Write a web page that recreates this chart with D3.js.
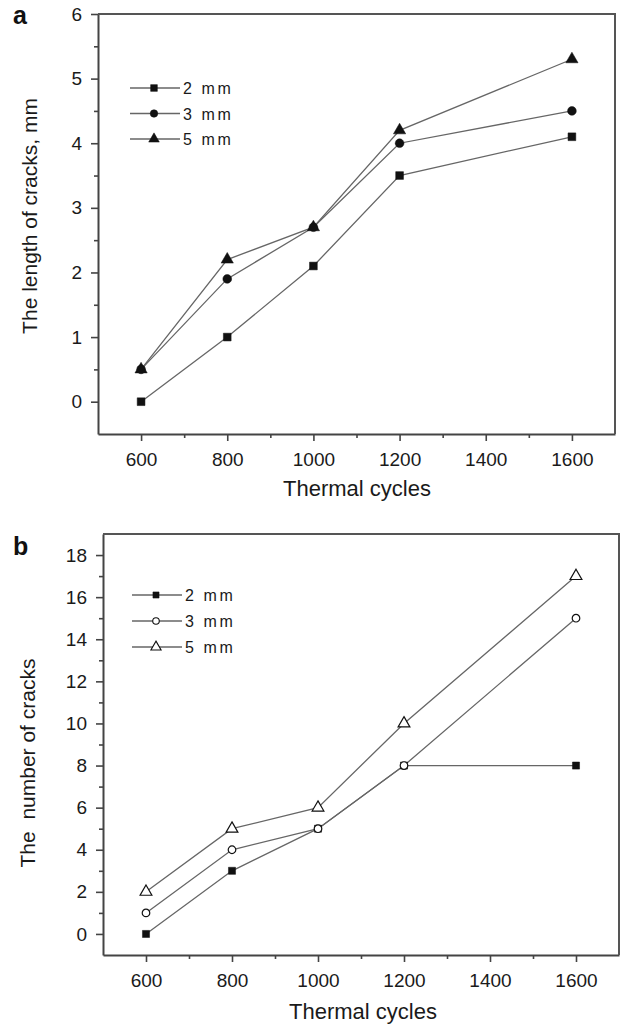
<!DOCTYPE html>
<html>
<head>
<meta charset="utf-8">
<script src="https://cdn.jsdelivr.net/npm/d3@7"></script>
<style>
  body { margin: 0; background: #fff; }
  svg { display: block; font-family: "Liberation Sans", Arial, sans-serif; }
</style>
</head>
<body>
<div id="chart"></div>
<script>
// Thermal cycles on the x axis (same for both panels)
const cycles = [600, 800, 1000, 1200, 1600];
const seriesNames = ["2 mm", "3 mm", "5 mm"];

// panel a: length of cracks, mm
const lengthTwo = [0, 1.0, 2.1, 3.5, 4.1];
const lengthThree = [0.5, 1.9, 2.7, 4.0, 4.5];
const lengthFive = [0.5, 2.2, 2.7, 4.2, 5.3];

// panel b: number of cracks
const countTwo = [0, 3, 5, 8, 8];
const countThree = [1, 4, 5, 8, 15];
const countFive = [2, 5, 6, 10, 17];

const xTicks = [600, 800, 1000, 1200, 1400, 1600];
const xMinor = [700, 900, 1100, 1300, 1500];
const yTicksA = [0, 1, 2, 3, 4, 5, 6];
const yMinorA = [0.5, 1.5, 2.5, 3.5, 4.5, 5.5];
const yTicksB = [0, 2, 4, 6, 8, 10, 12, 14, 16, 18];
const yMinorB = [1, 3, 5, 7, 9, 11, 13, 15, 17];

const width = 620, height = 1025;
const svg = d3.select("#chart").append("svg")
  .attr("width", width)
  .attr("height", height);

const axisColor = "#444";
const lineColor = "#666";

function drawPanel(p) {
  const x = d3.scaleLinear().domain([500, 1700]).range([p.left, p.right]);
  const y = d3.scaleLinear().domain(p.yDomain).range([p.bottom, p.top]);
  const g = svg.append("g");

  // minor ticks first
  g.append("g")
    .attr("transform", `translate(0,${p.bottom})`)
    .call(d3.axisBottom(x).tickValues(xMinor).tickSize(4).tickFormat(""))
    .call(a => a.select(".domain").remove());
  g.append("g")
    .attr("transform", `translate(${p.left},0)`)
    .call(d3.axisLeft(y).tickValues(p.yMinor).tickSize(4).tickFormat(""))
    .call(a => a.select(".domain").remove());

  // major axes
  const xa = g.append("g")
    .attr("transform", `translate(0,${p.bottom})`)
    .call(d3.axisBottom(x).tickValues(xTicks).tickFormat(d3.format("d"))
      .tickSize(7).tickPadding(12).tickSizeOuter(0));
  const ya = g.append("g")
    .attr("transform", `translate(${p.left},0)`)
    .call(d3.axisLeft(y).tickValues(p.yTicks).tickFormat(d3.format("d"))
      .tickSize(7).tickPadding(9).tickSizeOuter(0));
  [xa, ya].forEach(a => {
    a.attr("font-size", 19).attr("font-family", "Liberation Sans, Arial, sans-serif");
    a.selectAll("text").attr("fill", "#1a1a1a");
  });
  g.selectAll(".tick line").attr("stroke", axisColor).attr("stroke-width", 1.6);
  g.selectAll(".domain").attr("stroke", axisColor).attr("stroke-width", 2);

  // top and right frame
  g.append("path")
    .attr("d", `M${p.left},${p.top}H${p.right}V${p.bottom}`)
    .attr("fill", "none").attr("stroke", "#555").attr("stroke-width", 2);

  // series lines
  const line = d3.line().x((d, i) => x(cycles[i])).y(d => y(d));
  p.series.forEach(s => {
    g.append("path").datum(s.values)
      .attr("d", line)
      .attr("fill", "none").attr("stroke", lineColor).attr("stroke-width", 1.3);
  });

  // markers
  p.series.forEach(s => {
    g.selectAll(null).data(s.values).enter().append("path")
      .attr("transform", (d, i) => `translate(${x(cycles[i])},${y(d)})`)
      .attr("d", d3.symbol().type(s.shape).size(s.size))
      .attr("fill", s.fill).attr("stroke", "#111").attr("stroke-width", s.fill === "#fff" ? 1.2 : 0.5);
  });

  // legend
  p.series.forEach((s, i) => {
    const ly = p.legendY + i * p.legendStep;
    g.append("line")
      .attr("x1", p.legendX).attr("x2", p.legendX + 50)
      .attr("y1", ly).attr("y2", ly)
      .attr("stroke", lineColor).attr("stroke-width", 1.3);
    g.append("path")
      .attr("transform", `translate(${p.legendX + 24},${ly})`)
      .attr("d", d3.symbol().type(s.shape).size(s.size * 0.75))
      .attr("fill", s.fill).attr("stroke", "#111").attr("stroke-width", s.fill === "#fff" ? 1.1 : 0.5);
    g.append("text")
      .attr("x", p.legendX + 53).attr("y", ly + 6)
      .attr("font-size", 16).attr("letter-spacing", 2.6).attr("fill", "#1a1a1a")
      .text(seriesNames[i]);
  });

  // axis titles
  g.append("text")
    .attr("x", p.xTitleX).attr("y", p.xTitleY)
    .attr("text-anchor", "middle").attr("font-size", 22).attr("fill", "#1a1a1a")
    .text("Thermal cycles");
  g.append("text")
    .attr("transform", `translate(${p.yTitleX},${p.yTitleMid}) rotate(-90)`)
    .attr("text-anchor", "middle").attr("font-size", 21).attr("fill", "#1a1a1a")
    .attr("xml:space", "preserve")
    .text(p.yTitle);

  // panel letter
  g.append("text")
    .attr("x", 13).attr("y", p.letterY)
    .attr("font-size", 25).attr("font-weight", "bold").attr("fill", "#111")
    .text(p.letter);
}

drawPanel({
  letter: "a", letterY: 24,
  left: 98, right: 615, top: 14, bottom: 434,
  yDomain: [-0.5, 6], yTicks: yTicksA, yMinor: yMinorA,
  legendX: 130, legendY: 88, legendStep: 25.5,
  xTitleX: 357, xTitleY: 496, yTitleX: 37, yTitleMid: 216,
  yTitle: "The length of cracks, mm",
  series: [
    { values: lengthTwo, shape: d3.symbolSquare, size: 60, fill: "#111" },
    { values: lengthThree, shape: d3.symbolCircle, size: 60, fill: "#111" },
    { values: lengthFive, shape: d3.symbolTriangle, size: 65, fill: "#111" }
  ]
});

drawPanel({
  letter: "b", letterY: 555,
  left: 103, right: 619, top: 534, bottom: 955,
  yDomain: [-1, 19], yTicks: yTicksB, yMinor: yMinorB,
  legendX: 132, legendY: 595, legendStep: 26,
  xTitleX: 363, xTitleY: 1019, yTitleX: 35, yTitleMid: 763,
  yTitle: "The  number of cracks",
  series: [
    { values: countTwo, shape: d3.symbolSquare, size: 50, fill: "#111" },
    { values: countThree, shape: d3.symbolCircle, size: 45, fill: "#fff" },
    { values: countFive, shape: d3.symbolTriangle, size: 60, fill: "#fff" }
  ]
});
</script>
</body>
</html>
